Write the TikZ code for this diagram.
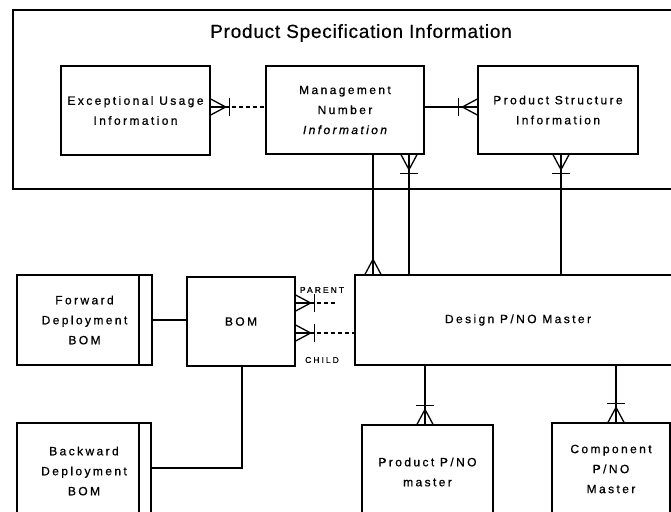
\documentclass[tikz,border=0pt]{standalone}
\usepackage{fontspec}
\setmainfont{Liberation Sans}
\newfontfamily\bxf[LetterSpace=20,FakeBold=0.8]{Liberation Sans}
\newfontfamily\smf[LetterSpace=24,FakeBold=0.8]{Liberation Sans}
\newfontfamily\ttlf[LetterSpace=4,FakeBold=0.4]{Liberation Sans}
\newcommand{\crowft}[3]{%
  \begin{scope}[shift={#1}, rotate=#2]
    \draw (0,-8) -- (15,0) -- (0,8);
    \draw (0,0) -- (19,0);
    \ifnum#3=1 \draw (19,-9) -- (19,9);\fi
  \end{scope}}
\begin{document}
\begin{tikzpicture}[x=1pt,y=-1pt,line width=1.3pt,
  box/.style={draw, rectangle, inner sep=0pt, align=center,
    font=\bxf\fontsize{12}{20}\selectfont},
  lbl/.style={inner sep=0pt, font=\smf\fontsize{8.5}{9}\selectfont},
  dsh/.style={dash pattern=on 4pt off 3pt}]
\useasboundingbox (0,0) rectangle (671,511);
\fill[white] (0,0) rectangle (671,511);
\clip (0,0) rectangle (671,511);

% outer group
\node[draw, rectangle, inner sep=0pt, minimum width=677pt, minimum height=179pt] (psi) at (351.5,99.5) {};
\node[inner sep=0pt, font=\ttlf\fontsize{19}{22}\selectfont] (title) at (361,33) {Product Specification Information};

\node[box, minimum width=149pt, minimum height=89pt] (exc) at (135.5,110.5) {Exceptional Usage\\Information};
\node[box, minimum width=158pt, minimum height=88pt] (mgmt) at (345,110) {Management\\Number\\{\itshape Information}};
\node[box, minimum width=160pt, minimum height=88pt] (ps) at (558,110) {Product Structure\\Information};

\node[box, minimum width=135pt, minimum height=90pt] (fwd) at (84.5,320) {Forward\\Deployment\\BOM};
\node[box, minimum width=134pt, minimum height=96pt] (bwd) at (84,471) {Backward\\Deployment\\BOM};
\node[box, minimum width=108pt, minimum height=89pt] (bom) at (241,321.5) {BOM};
\node[box, minimum width=326pt, minimum height=90pt] (design) at (518,320) {Design P/NO Master};
\node[box, minimum width=131pt, minimum height=94pt] (prod) at (427.5,472) {Product P/NO\\master};
\node[box, minimum width=118pt, minimum height=92pt] (comp) at (611,469) {Component\\P/NO\\Master};

\node[lbl] (parent) at (322,290) {PARENT};
\node[lbl] (child) at (322,360) {CHILD};

% helper coordinates
\coordinate (yr) at (0,107);
\coordinate (xa) at (373,0);
\coordinate (xb) at (409,0);
\coordinate (xc) at (561,0);
\coordinate (xd) at (425,0);
\coordinate (xe) at (616,0);
\coordinate (xf) at (242,0);
\coordinate (xi) at (139,0);
\coordinate (yg) at (0,468);
\coordinate (yh) at (0,320);
\coordinate (yp) at (0,303);
\coordinate (yc) at (0,333);
\coordinate (pend) at (335,303);

% double right edges
\draw (fwd.north -| xi) -- (fwd.south -| xi);
\draw (bwd.north -| xi) -- (bwd.south -| xi);

% connectors
\draw[dsh] (exc.east |- yr) -- (mgmt.west |- yr);
\crowft{(exc.east |- yr)}{0}{1}
\draw (mgmt.east |- yr) -- (ps.west |- yr);
\crowft{(ps.west |- yr)}{180}{1}

\draw (mgmt.south -| xa) -- (design.north -| xa);
\crowft{(design.north -| xa)}{90}{0}
\draw (mgmt.south -| xb) -- (design.north -| xb);
\crowft{(mgmt.south -| xb)}{-90}{1}
\draw (ps.south -| xc) -- (design.north -| xc);
\crowft{(ps.south -| xc)}{-90}{1}

\draw (design.south -| xd) -- (prod.north -| xd);
\crowft{(prod.north -| xd)}{90}{1}
\draw (design.south -| xe) -- (comp.north -| xe);
\crowft{(comp.north -| xe)}{90}{1}

\draw (fwd.east |- yh) -- (bom.west |- yh);
\draw (bom.south -| xf) |- (bwd.east |- yg);

\draw[dsh] (bom.east |- yp) -- (pend);
\crowft{(bom.east |- yp)}{0}{1}
\draw[dsh] (bom.east |- yc) -- (design.west |- yc);
\crowft{(bom.east |- yc)}{0}{1}
\end{tikzpicture}
\end{document}
